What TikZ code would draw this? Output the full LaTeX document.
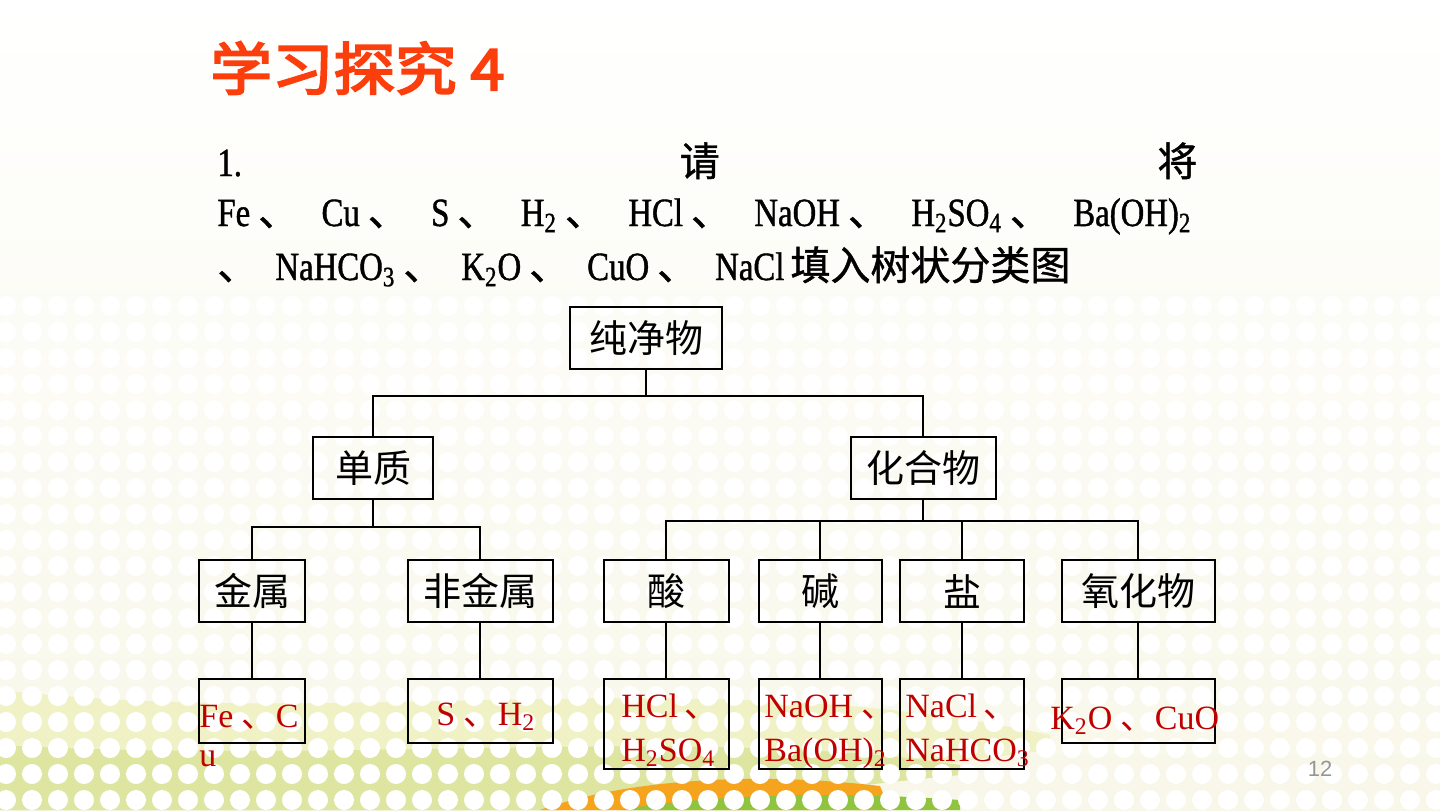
\documentclass[tikz,border=0pt]{standalone}
\usepackage{fontspec}
\setmainfont{Liberation Serif}
\newfontfamily\cjk{Noto Sans CJK SC}
\newfontfamily\cjkbold{Noto Sans CJK SC}[FakeBold=3.5,FakeStretch=1.08]
\newfontfamily\bodyfont{Liberation Serif}[FakeStretch=0.82,FakeBold=1]
\newfontfamily\cjkbody{Noto Sans CJK SC}[FakeBold=1]
\newfontfamily\numfont{Liberation Sans}
\usetikzlibrary{positioning,calc}
\definecolor{titlered}{RGB}{252,62,12}
\definecolor{answerred}{RGB}{192,0,0}
\definecolor{pagegrey}{RGB}{150,150,150}
\definecolor{bgcream}{RGB}{248,247,233}
\definecolor{bandpale}{RGB}{240,241,196}
\definecolor{bandgreen}{RGB}{221,229,160}
\definecolor{swooshorange}{RGB}{246,163,30}
\definecolor{swooshgreen}{RGB}{142,196,62}
\newcommand{\dun}{{\cjk 、}}
\newcommand{\bdun}{{\cjkbody 、}}

\begin{document}
\begin{tikzpicture}[x=0.5pt,y=-0.5pt,
    catbox/.style={draw,line width=1pt,inner sep=0pt,minimum height=31pt,
      font=\cjk\fontsize{19}{19}\selectfont},
    leafbox/.style={draw,line width=1pt,inner sep=0pt,anchor=north},
    answer/.style={text=answerred,font=\fontsize{17}{20}\selectfont,inner sep=0pt,anchor=base west},
    bodytext/.style={font=\bodyfont\fontsize{20}{24}\selectfont,inner sep=0pt,anchor=base west},
    link/.style={line width=1pt}]
  \useasboundingbox (0,0) rectangle (1440,810);
  % background and swoosh
  \shade[top color=white,bottom color=bgcream] (0,0) rectangle (1440,810);
  \fill[bandpale] (0,690) .. controls (350,730) and (700,660) .. (1050,735) -- (1050,750)
    .. controls (800,780) and (700,810) .. (600,810) -- (0,810) -- cycle;
  \fill[bandgreen] (0,745) .. controls (350,765) and (700,725) .. (960,765) -- (960,775)
    .. controls (800,790) and (700,810) .. (600,810) -- (0,810) -- cycle;
  \fill[swooshorange] (540,810) .. controls (630,778) and (760,772) .. (880,786) -- (890,810) -- cycle;
  \fill[swooshgreen] (620,810) .. controls (700,796) and (820,790) .. (960,800) -- (960,810) -- cycle;
  \foreach \i in {0,...,55}
    \foreach \j in {0,...,19}
      \fill[white] (\i*26+6,306+\j*26) circle (5pt);

  % title and question
  \node[anchor=base west,inner sep=0pt,text=titlered,font=\cjkbold\fontsize{28.5}{28}\selectfont] (title) at (210,90) {学习探究 4};
  \node[bodytext] (line1) at (217,176) {\makebox[490pt]{1.\hfill{\cjkbody 请}\hfill{\cjkbody 将}}};
  \node[bodytext] (line2) at (217,226) {\makebox[487pt]{Fe\hspace{4pt}\bdun\hfill Cu\hspace{4pt}\bdun\hfill S\hspace{4pt}\bdun\hfill H\textsubscript{2}\hspace{4pt}\bdun\hfill HCl\hspace{4pt}\bdun\hfill NaOH\hspace{4pt}\bdun\hfill H\textsubscript{2}SO\textsubscript{4}\hspace{4pt}\bdun\hfill Ba(OH)\textsubscript{2}}};
  \node[bodytext] (line3) at (217,280) {\bdun\hspace{9pt}NaHCO\textsubscript{3}\hspace{4pt}\bdun\hspace{9pt}K\textsubscript{2}O\hspace{4pt}\bdun\hspace{9pt}CuO\hspace{4pt}\bdun\hspace{9pt}NaCl\hspace{3pt}{\cjkbody 填入树状分类图}};

  % tree
  \node[catbox,minimum width=76pt] (root) at (646,338) {纯净物};
  \node[catbox,minimum width=60pt] (dz) at (373,468) {单质};
  \node[catbox,minimum width=72.5pt] (hhw) at (923,468) {化合物};
  \node[catbox,minimum width=53pt] (js) at (252,591) {金属};
  \node[catbox,minimum width=72.5pt] (fjs) at (480,591) {非金属};
  \node[catbox,minimum width=62.5pt] (suan) at (666,591) {酸};
  \node[catbox,minimum width=61.5pt] (jian) at (820,591) {碱};
  \node[catbox,minimum width=62pt] (yan) at (962,591) {盐};
  \node[catbox,minimum width=76.5pt] (yhw) at (1138,591) {氧化物};

  \node[leafbox,minimum width=53pt,minimum height=32pt] (js-leaf) at (252,678) {};
  \node[leafbox,minimum width=72.5pt,minimum height=32pt] (fjs-leaf) at (480,678) {};
  \node[leafbox,minimum width=62.5pt,minimum height=45pt] (suan-leaf) at (666,678) {};
  \node[leafbox,minimum width=61.5pt,minimum height=45pt] (jian-leaf) at (820,678) {};
  \node[leafbox,minimum width=62pt,minimum height=45pt] (yan-leaf) at (962,678) {};
  \node[leafbox,minimum width=76.5pt,minimum height=32pt] (yhw-leaf) at (1138,678) {};

  \coordinate (bus1) at (646,396);
  \coordinate (bus2) at (373,527);
  \coordinate (bus3) at (923,521);
  \draw[link] (root.south) -- (bus1);
  \draw[link] (dz.north) |- (bus1) -| (hhw.north);
  \draw[link] (dz.south) -- (bus2);
  \draw[link] (js.north) |- (bus2) -| (fjs.north);
  \draw[link] (hhw.south) -- (bus3);
  \draw[link] (suan.north) |- (bus3) -| (yhw.north);
  \draw[link] (jian.north) -- (jian.north |- bus3);
  \draw[link] (yan.north) -- (yan.north |- bus3);
  \foreach \a in {js,fjs,suan,jian,yan,yhw}
    \draw[link] (\a.south) -- (\a-leaf.north);

  % answers
  \node[answer] (js-a1) at (199,727) {Fe \dun C};
  \node[answer] (js-a2) at (199,766) {u};
  \node[answer] (fjs-a) at (436,725) {S \dun H\textsubscript{2}};
  \node[answer] (suan-a1) at (621,717) {HCl\hspace{3pt}\dun};
  \node[answer] (suan-a2) at (621,761) {H\textsubscript{2}SO\textsubscript{4}};
  \node[answer] (jian-a1) at (764,717) {NaOH \dun};
  \node[answer] (jian-a2) at (764,761) {Ba(OH)\textsubscript{2}};
  \node[answer] (yan-a1) at (905,717) {NaCl\hspace{3pt}\dun};
  \node[answer] (yan-a2) at (905,761) {NaHCO\textsubscript{3}};
  \node[answer] (yhw-a) at (1050,729) {K\textsubscript{2}O \dun CuO};

  \node[text=pagegrey,font=\numfont\fontsize{11}{11}\selectfont] (pagenum) at (1320,769) {12};
\end{tikzpicture}
\end{document}
